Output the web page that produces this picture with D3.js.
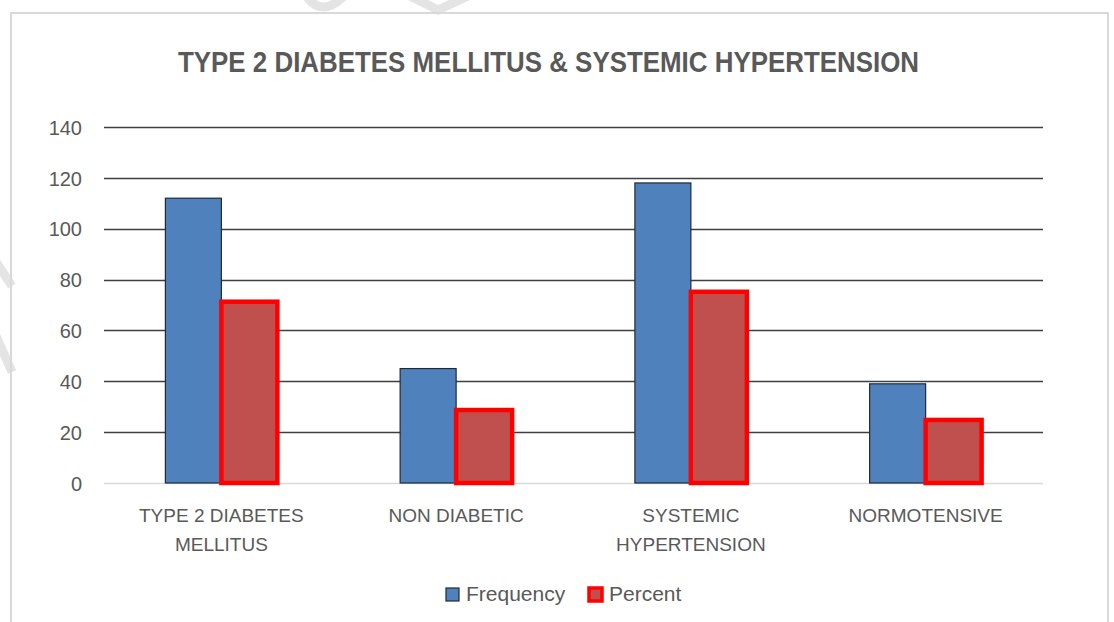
<!DOCTYPE html>
<html>
<head>
<meta charset="utf-8">
<script src="https://cdn.jsdelivr.net/npm/d3@7"></script>
<style>
  html, body { margin: 0; padding: 0; background: #ffffff; }
  svg { display: block; }
  text { font-family: "Liberation Sans", Arial, sans-serif; }
</style>
</head>
<body>
<svg id="chart" width="1114" height="622"></svg>
<script>
// ---- data ----
const categories = [["TYPE 2 DIABETES", "MELLITUS"], ["NON DIABETIC"], ["SYSTEMIC", "HYPERTENSION"], ["NORMOTENSIVE"]];
const categoryKeys = ["TYPE 2 DIABETES MELLITUS", "NON DIABETIC", "SYSTEMIC HYPERTENSION", "NORMOTENSIVE"];
const seriesNames = ["Frequency", "Percent"];
const frequency = [112, 45, 118, 39];
const percent = [71.3, 28.7, 75.2, 24.8];
const yTicks = [0, 20, 40, 60, 80, 100, 120, 140];
const titleText = "TYPE 2 DIABETES MELLITUS & SYSTEMIC HYPERTENSION";

const svg = d3.select("#chart");

// faint watermark strokes
const wm = svg.append("g").attr("fill", "none").attr("stroke", "#e4e4e4").attr("stroke-width", 9);
wm.append("path").attr("d", "M306,-4 Q322,18 344,-4");
wm.append("path").attr("d", "M410,-4 L438,10 L468,-4");
wm.append("path").attr("d", "M-4,262 L12,286");
wm.append("path").attr("d", "M-4,336 L12,372");

// chart border
svg.append("rect").attr("x", 11).attr("y", 13).attr("width", 1097).attr("height", 620)
  .attr("fill", "none").attr("stroke", "#d9d9d9").attr("stroke-width", 2);

const plotL = 104, plotR = 1043, plotT = 127, plotB = 483;
const y = d3.scaleLinear().domain([0, 140]).range([plotB, plotT]);
const x0 = d3.scaleBand().domain(categoryKeys).range([plotL, plotR]).paddingInner(0.523).paddingOuter(0.2615);
const x1 = d3.scaleBand().domain(seriesNames).range([0, x0.bandwidth()]);

// title
svg.append("text").attr("x", 548.5).attr("y", 72).attr("text-anchor", "middle")
  .attr("font-size", 29).attr("font-weight", "bold").attr("fill", "#595959")
  .attr("textLength", 741).attr("lengthAdjust", "spacingAndGlyphs")
  .text(titleText);

// gridlines
svg.append("g").selectAll("line").data(yTicks).join("line")
  .attr("x1", plotL).attr("x2", plotR)
  .attr("y1", d => Math.round(y(d)) + 0.5).attr("y2", d => Math.round(y(d)) + 0.5)
  .attr("stroke", d => d === 0 ? "#d9d9d9" : "#3f3f3f")
  .attr("stroke-width", 1.3);

// y axis labels
const yAxis = d3.axisLeft(y).tickValues(yTicks).tickSize(0).tickPadding(0);
const ya = svg.append("g").attr("transform", `translate(${82},0)`).call(yAxis);
ya.select(".domain").remove();
ya.selectAll("text").attr("font-size", 20).attr("fill", "#595959")
  .attr("font-family", "'Liberation Sans', Arial, sans-serif").attr("dy", "0.36em");

// bars
const rows = categoryKeys.map((k, i) => ({ key: k, values: [
  { s: "Frequency", v: frequency[i] }, { s: "Percent", v: percent[i] }] }));
const groups = svg.append("g").selectAll("g").data(rows).join("g")
  .attr("transform", d => `translate(${x0(d.key)},0)`);
groups.selectAll("rect").data(d => d.values).join("rect")
  .attr("x", d => x1(d.s)).attr("width", x1.bandwidth())
  .attr("y", d => y(d.v)).attr("height", d => y(0) - y(d.v))
  .attr("fill", d => d.s === "Frequency" ? "#4f81bd" : "#c0504d")
  .attr("stroke", d => d.s === "Frequency" ? "#1f2a38" : "#ff0000")
  .attr("stroke-width", d => d.s === "Frequency" ? 1.2 : 4.5);

// category labels
const catG = svg.append("g").selectAll("text").data(categoryKeys).join("text")
  .attr("x", (d) => x0(d) + x0.bandwidth() / 2)
  .attr("y", 522).attr("text-anchor", "middle")
  .attr("font-size", 19).attr("fill", "#595959");
catG.each(function(d, i) {
  const t = d3.select(this);
  categories[i].forEach((line, j) => {
    t.append("tspan").attr("x", x0(d) + x0.bandwidth() / 2).attr("dy", j === 0 ? 0 : 29).text(line);
  });
});

// legend
const legend = [
  { name: seriesNames[0], x: 446, fill: "#4f81bd", stroke: "#1f2a38", sw: 1.2 },
  { name: seriesNames[1], x: 589, fill: "#c0504d", stroke: "#ff0000", sw: 3.5 }
];
const lg = svg.append("g").selectAll("g").data(legend).join("g");
lg.append("rect").attr("x", d => d.x).attr("y", 588).attr("width", 13).attr("height", 13)
  .attr("fill", d => d.fill).attr("stroke", d => d.stroke).attr("stroke-width", d => d.sw);
lg.append("text").attr("x", d => d.x + 20).attr("y", 601).attr("font-size", 21).attr("fill", "#595959")
  .text(d => d.name);
</script>
</body>
</html>
